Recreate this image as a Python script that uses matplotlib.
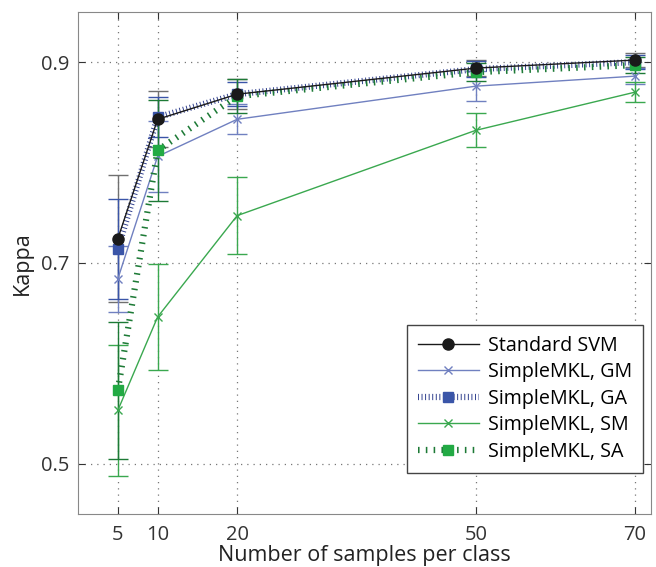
import matplotlib.pyplot as plt

# samples per class
x = [5, 10, 20, 50, 70]

# kappa means
svm = [0.724, 0.843, 0.868, 0.894, 0.902]
gm = [0.684, 0.806, 0.843, 0.876, 0.886]
ga = [0.714, 0.845, 0.868, 0.893, 0.900]
sm = [0.553, 0.646, 0.747, 0.832, 0.870]
sa = [0.573, 0.812, 0.866, 0.890, 0.897]

# error bar half widths
svm_err = [0.063, 0.028, 0.015, 0.008, 0.007]
gm_err = [0.033, 0.035, 0.015, 0.015, 0.008]
ga_err = [0.050, 0.020, 0.012, 0.008, 0.007]
sm_err = [0.065, 0.053, 0.038, 0.017, 0.010]
sa_err = [0.068, 0.050, 0.017, 0.009, 0.008]

labels = ['Standard SVM', 'SimpleMKL, GM', 'SimpleMKL, GA', 'SimpleMKL, SM', 'SimpleMKL, SA']
xticks = [5, 10, 20, 50, 70]
yticks = [0.5, 0.7, 0.9]

plt.rcParams['font.family'] = ['Open Sans', 'DejaVu Sans']

fig = plt.figure(figsize=(6.56, 5.67), dpi=100)
ax = fig.add_axes([0.119, 0.094, 0.873, 0.885])

blue = '#3a55a8'
navy = '#2a3a8a'
bluegray = '#7080c0'
green = '#3aa84f'
dgreen = '#1d7a36'

# error bars first (thin)
ax.errorbar(x, svm, yerr=svm_err, fmt='none', ecolor='#707070', elinewidth=1, capsize=7, zorder=2)
ax.errorbar(x, gm, yerr=gm_err, fmt='none', ecolor=bluegray, elinewidth=1, capsize=7, zorder=2)
ax.errorbar(x, ga, yerr=ga_err, fmt='none', ecolor=blue, elinewidth=1, capsize=7, zorder=2)
ax.errorbar(x, sm, yerr=sm_err, fmt='none', ecolor=green, elinewidth=1, capsize=7, zorder=2)
ax.errorbar(x, sa, yerr=sa_err, fmt='none', ecolor=dgreen, elinewidth=1, capsize=7, zorder=2)

ax.plot(x, svm, color='#1a1a1a', lw=1, marker='o', ms=8, label=labels[0], zorder=5)
ax.plot(x, gm, color=bluegray, lw=1, marker='x', ms=6, mew=1, label=labels[1], zorder=4)
ax.plot(x, ga, color=navy, lw=4.5, ls=(0, (0.15, 0.42)), dash_capstyle='butt',
        marker='s', ms=7, mfc=blue, mec=blue, label=labels[2], zorder=4)
ax.plot(x, sm, color=green, lw=1, marker='x', ms=6, mew=1, label=labels[3], zorder=3)
ax.plot(x, sa, color=dgreen, lw=4.5, ls=(0, (0.25, 1.0)), dash_capstyle='butt',
        marker='s', ms=7, mfc='#22aa44', mec='#22aa44', label=labels[4], zorder=4)

ax.set_xlim(0, 72)
ax.set_ylim(0.45, 0.95)
ax.set_xticks(xticks)
ax.set_xticklabels([str(v) for v in xticks])
ax.set_yticks(yticks)
ax.set_yticklabels([str(v) for v in yticks])
ax.grid(True, ls=(0, (1, 4)), color='#777777', lw=0.9)
ax.tick_params(direction='in', length=5, labelsize=14.5, colors='#333333', top=True, right=True)
ax.tick_params(axis='x', pad=8)
ax.tick_params(axis='y', pad=6)
for s in ax.spines.values():
    s.set_color('#888888')

ax.set_xlabel('Number of samples per class', fontsize=15.5, color='#222222', labelpad=0)
ax.set_ylabel('Kappa', fontsize=15.5, color='#222222', labelpad=6)

leg = ax.legend(loc='lower right', bbox_to_anchor=(0.986, 0.082), borderaxespad=0,
                fontsize=14.2, fancybox=False, framealpha=1, edgecolor='#444444',
                handlelength=3.1, labelspacing=0.33, borderpad=0.55, handletextpad=0.45)
leg.get_frame().set_linewidth(1)

fig.savefig('out.png', dpi=100)
